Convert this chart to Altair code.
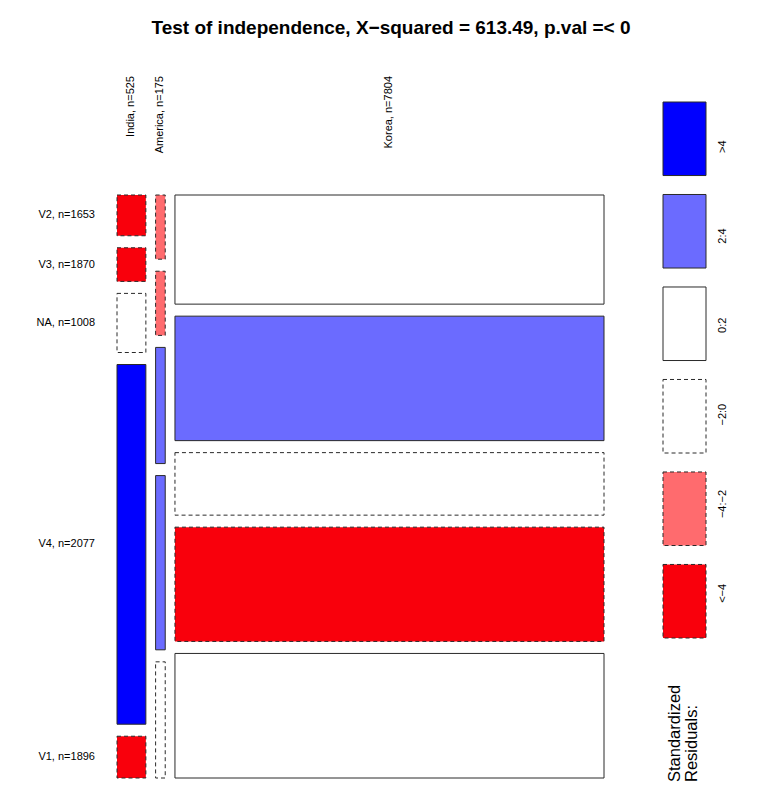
import altair as alt
import pandas as pd
import numpy as np

# ---- data ----
countries = ["India", "America", "Korea"]
groups = ["V2", "V3", "NA", "V4", "V1"]
india = [40, 33, 58, 353, 41]
america = [21, 21, 38, 57, 38]
korea = [1592, 1816, 912, 1667, 1817]

bin_keys = [">4", "2:4", "0:2", "-2:0", "-4:-2", "<-4"]
bin_text = [">4", "2:4", "0:2", "\u22122:0", "\u22124:\u22122", "<\u22124"]
bin_colors = ["#0000FF", "#6B6BFF", "#FFFFFF", "#FFFFFF", "#FF6B6E", "#F9000C"]
title_text = "Test of independence, X\u2212squared = 613.49, p.val =< 0"

FONT = "Liberation Sans"
GAP_X = 0.02
GAP_Y = 0.0206

counts = np.array([india, america, korea], dtype=float)
total = counts.sum()
col_tot = counts.sum(axis=1)
row_tot = counts.sum(axis=0)
expected = np.outer(col_tot, row_tot) / total
resid = (counts - expected) / np.sqrt(expected)


def bin_of(r):
    if r > 4:
        return ">4"
    if r > 2:
        return "2:4"
    if r > 0:
        return "0:2"
    if r > -2:
        return "-2:0"
    if r > -4:
        return "-4:-2"
    return "<-4"


rows = []
col_labels = []
x = 0.0
for i, c in enumerate(countries):
    w = col_tot[i] / total * (1 - (len(countries) - 1) * GAP_X)
    col_labels.append({"label": f"{c}, n={int(col_tot[i])}", "xc": x + w / 2})
    y = 0.0
    for j, g in enumerate(groups):
        h = counts[i, j] / col_tot[i] * (1 - (len(groups) - 1) * GAP_Y)
        b = bin_of(resid[i, j])
        rows.append({
            "country": c, "group": g, "n": int(counts[i, j]),
            "x0": x, "x1": x + w, "y0": y, "y1": y + h, "yc": y + h / 2,
            "bin": b, "sign": "neg" if resid[i, j] <= 0 else "pos",
        })
        y += h + GAP_Y
    x += w + GAP_X

mosaic = pd.DataFrame(rows)
cols_df = pd.DataFrame(col_labels)
row_lab = mosaic[mosaic["country"] == countries[0]].copy()
row_lab["label"] = [f"{g}, n={int(row_tot[j])}" for j, g in enumerate(groups)]

legend_df = pd.DataFrame({
    "bin": bin_keys, "text": bin_text,
    "sign": ["pos", "pos", "pos", "neg", "neg", "neg"],
})

xs = alt.Scale(domain=[0, 1], range=[117, 604])
ys = alt.Scale(domain=[0, 1], range=[195, 778])
fill_scale = alt.Scale(domain=bin_keys, range=bin_colors)
legend_y = alt.Scale(domain=bin_keys, range=[102, 638], paddingInner=0.205, paddingOuter=0)

STROKE = "#2a2a2a"


def mosaic_layer(sign, dash):
    kw = dict(stroke=STROKE, strokeWidth=1)
    if dash:
        kw["strokeDash"] = [4, 3]
    return alt.Chart(mosaic).transform_filter(alt.datum.sign == sign).mark_rect(**kw).encode(
        x=alt.X("x0:Q", scale=xs, axis=None),
        x2="x1:Q",
        y=alt.Y("y0:Q", scale=ys, axis=None),
        y2="y1:Q",
        fill=alt.Fill("bin:N", scale=fill_scale, legend=None),
    )


def legend_layer(sign, dash):
    kw = dict(stroke=STROKE, strokeWidth=1)
    if dash:
        kw["strokeDash"] = [4, 3]
    return alt.Chart(legend_df).transform_filter(alt.datum.sign == sign).mark_rect(**kw).encode(
        x=alt.value(663),
        x2=alt.value(706),
        y=alt.Y("bin:N", scale=legend_y, axis=None, sort=bin_keys),
        fill=alt.Fill("bin:N", scale=fill_scale, legend=None),
    )


rects_pos = mosaic_layer("pos", False)
rects_neg = mosaic_layer("neg", True)

col_text = alt.Chart(cols_df).mark_text(
    angle=270, align="right", baseline="middle", fontSize=11, font=FONT, color="black"
).encode(
    x=alt.X("xc:Q", scale=xs, axis=None),
    y=alt.value(76),
    text="label:N",
)

row_text = alt.Chart(row_lab).mark_text(
    align="right", baseline="middle", fontSize=11, font=FONT, color="black"
).encode(
    x=alt.value(95),
    y=alt.Y("yc:Q", scale=ys, axis=None),
    text="label:N",
)

leg_pos = legend_layer("pos", False)
leg_neg = legend_layer("neg", True)

leg_text = alt.Chart(legend_df).mark_text(
    angle=270, align="center", baseline="middle", fontSize=11, font=FONT, color="black"
).encode(
    x=alt.value(723),
    y=alt.Y("bin:N", scale=legend_y, axis=None, sort=bin_keys),
    text="text:N",
)

leg_title = alt.Chart(pd.DataFrame({"t": [0]})).mark_text(
    angle=270, align="left", baseline="top", fontSize=16.5, font=FONT, color="black",
    lineHeight=17, text=["Standardized", "Residuals:"],
).encode(
    x=alt.value(667),
    y=alt.value(782),
)

title = alt.Chart(pd.DataFrame({"t": [title_text]})).mark_text(
    align="center", baseline="middle", fontSize=19, fontWeight="bold", font=FONT, color="black"
).encode(
    x=alt.value(391),
    y=alt.value(28),
    text="t:N",
)

chart = alt.layer(
    rects_pos, rects_neg, col_text, row_text, leg_pos, leg_neg, leg_text, leg_title, title
).resolve_scale(
    x="independent", y="independent"
).properties(
    width=757, height=789, autosize=alt.AutoSizeParams(type="none"),
    padding=0, background="white",
).configure_view(stroke=None)

chart.save("out.html", embed_options={"renderer": "svg", "actions": False})
